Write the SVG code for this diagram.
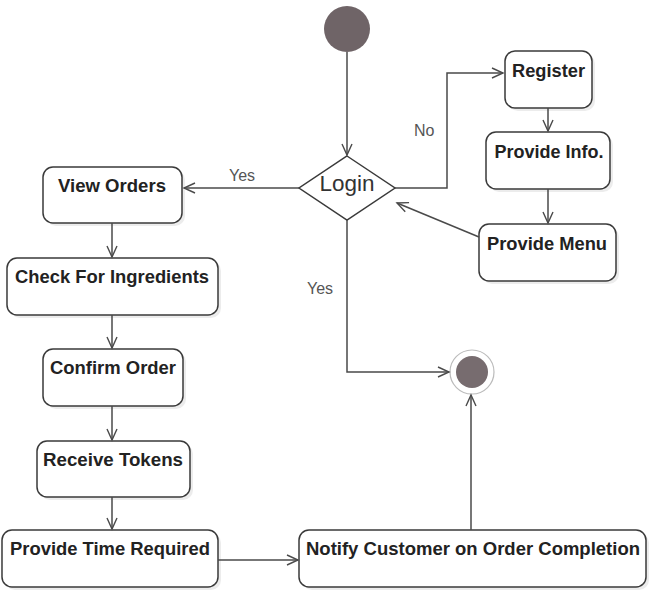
<svg xmlns="http://www.w3.org/2000/svg" width="652" height="599" viewBox="0 0 652 599">
<style>
.box{fill:#fff;stroke:#3a3a3a;stroke-width:1.5}
.shadow{fill:#ececec}
.t{font-family:"Liberation Sans",Arial,sans-serif;font-weight:bold;font-size:18px;fill:#222;text-anchor:middle}
.lbl{font-family:"Liberation Sans",Arial,sans-serif;font-size:16px;fill:#555}
.c{fill:none;stroke:#4a4a4a;stroke-width:1.5}
</style>
<defs>
<marker id="a" markerWidth="14" markerHeight="14" refX="12" refY="6" orient="auto" markerUnits="userSpaceOnUse">
<path d="M1,1 L12,6 L1,11" fill="none" stroke="#4a4a4a" stroke-width="1.4"/>
</marker>
</defs>
<rect width="652" height="599" fill="#fff"/>
<g id="start"><circle cx="347" cy="29" r="23" fill="#6f6467"/></g>
<g id="login">
<polygon points="347,156 395,188 347,220 299,188" fill="#fff" stroke="#3a3a3a" stroke-width="1.5"/>
<text x="347" y="191" font-family="'Liberation Sans',Arial,sans-serif" font-size="22" fill="#333" text-anchor="middle" textLength="55" lengthAdjust="spacingAndGlyphs">Login</text>
</g>
<g id="register"><rect class="shadow" x="508" y="54" width="87" height="57" rx="10"/><rect class="box" x="505" y="51" width="87" height="57" rx="10"/><text class="t" x="548.5" y="77" textLength="73" lengthAdjust="spacingAndGlyphs">Register</text></g>
<g id="provideInfo"><rect class="shadow" x="489" y="135" width="124" height="57" rx="10"/><rect class="box" x="486" y="132" width="124" height="57" rx="10"/><text class="t" x="549" y="158" textLength="109" lengthAdjust="spacingAndGlyphs">Provide Info.</text></g>
<g id="provideMenu"><rect class="shadow" x="482" y="227" width="137" height="57" rx="10"/><rect class="box" x="479" y="224" width="137" height="57" rx="10"/><text class="t" x="547" y="250" textLength="120" lengthAdjust="spacingAndGlyphs">Provide Menu</text></g>
<g id="viewOrders"><rect class="shadow" x="46" y="170" width="139" height="56" rx="10"/><rect class="box" x="43" y="167" width="139" height="56" rx="10"/><text class="t" x="112" y="192" textLength="108" lengthAdjust="spacingAndGlyphs">View Orders</text></g>
<g id="checkIngredients"><rect class="shadow" x="10" y="261" width="211" height="57" rx="10"/><rect class="box" x="7" y="258" width="211" height="57" rx="10"/><text class="t" x="112" y="283" textLength="194" lengthAdjust="spacingAndGlyphs">Check For Ingredients</text></g>
<g id="confirmOrder"><rect class="shadow" x="46" y="352" width="140" height="57" rx="10"/><rect class="box" x="43" y="349" width="140" height="57" rx="10"/><text class="t" x="113" y="374" textLength="126" lengthAdjust="spacingAndGlyphs">Confirm Order</text></g>
<g id="receiveTokens"><rect class="shadow" x="40" y="444" width="153" height="56" rx="10"/><rect class="box" x="37" y="441" width="153" height="56" rx="10"/><text class="t" x="113" y="466" textLength="140" lengthAdjust="spacingAndGlyphs">Receive Tokens</text></g>
<g id="provideTime"><rect class="shadow" x="5" y="533" width="216" height="57" rx="10"/><rect class="box" x="2" y="530" width="216" height="57" rx="10"/><text class="t" x="110" y="555" textLength="200" lengthAdjust="spacingAndGlyphs">Provide Time Required</text></g>
<g id="notify"><rect class="shadow" x="302" y="533" width="347" height="57" rx="10"/><rect class="box" x="299" y="530" width="347" height="57" rx="10"/><text class="t" x="473" y="555" textLength="334" lengthAdjust="spacingAndGlyphs">Notify Customer on Order Completion</text></g>
<g id="end"><circle cx="472" cy="372" r="22" fill="#fff" stroke="#bbb" stroke-width="1.2"/><circle cx="472" cy="372" r="16" fill="#776c6f"/></g>
<g id="connectors">
<path class="c" d="M347,52 L347,155" marker-end="url(#a)"/>
<path class="c" d="M395,188 L447,188 L447,73 L503,73" marker-end="url(#a)"/>
<path class="c" d="M548,108 L548,131" marker-end="url(#a)"/>
<path class="c" d="M548,189 L548,223" marker-end="url(#a)"/>
<path class="c" d="M479,237 L397,203" marker-end="url(#a)"/>
<path class="c" d="M299,188 L184,188" marker-end="url(#a)"/>
<path class="c" d="M112,223 L112,257" marker-end="url(#a)"/>
<path class="c" d="M112,315 L112,348" marker-end="url(#a)"/>
<path class="c" d="M112,406 L112,440" marker-end="url(#a)"/>
<path class="c" d="M112,497 L112,529" marker-end="url(#a)"/>
<path class="c" d="M218,560 L298,560" marker-end="url(#a)"/>
<path class="c" d="M347,220 L347,372 L449,372" marker-end="url(#a)"/>
<path class="c" d="M471,530 L471,395" marker-end="url(#a)"/>
<text class="lbl" x="229" y="181">Yes</text>
<text class="lbl" x="414" y="136">No</text>
<text class="lbl" x="307" y="294">Yes</text>
</g>
</svg>
